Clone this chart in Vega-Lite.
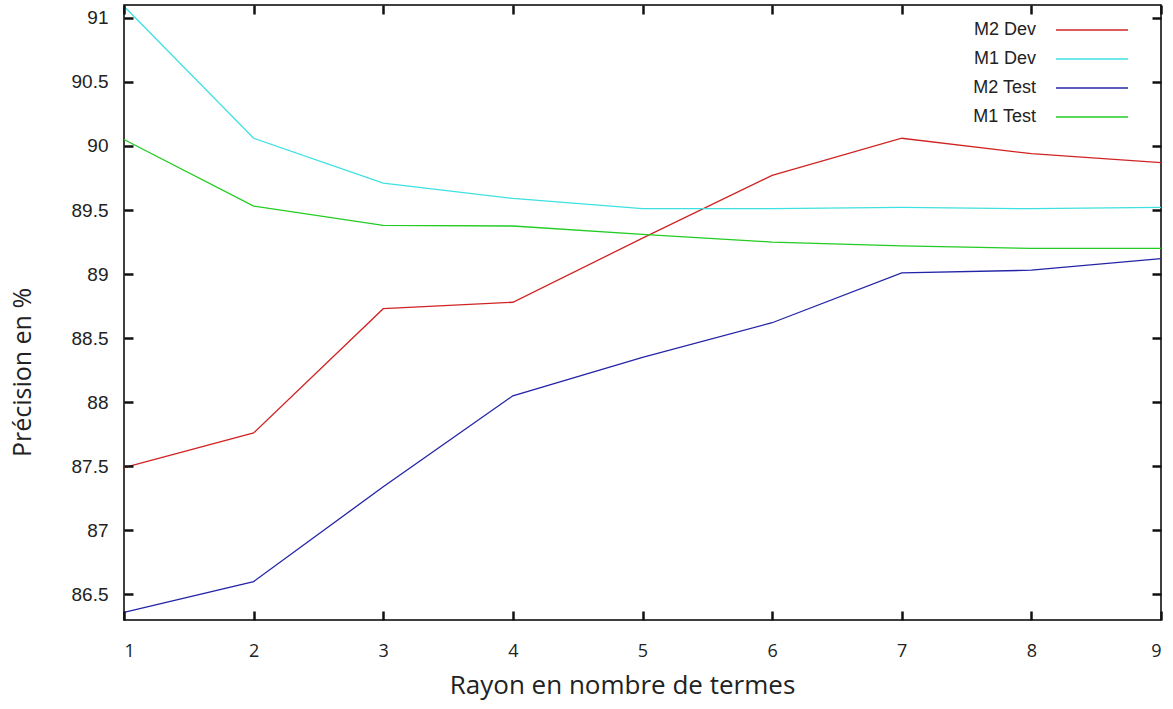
{
  "$schema": "https://vega.github.io/schema/vega-lite/v6.json",
  "width": 1037,
  "height": 615,
  "autosize": "none",
  "padding": {"left": 124, "top": 5, "right": 12, "bottom": 89},
  "background": "white",
  "config": {
    "view": {"stroke": "black", "strokeWidth": 1.5},
    "axis": {"grid": false, "domain": false, "labelColor": "#222222", "titleColor": "#222222", "titleFontWeight": "normal"}
  },
  "data": {
    "values": [
      {"r": 1, "s": "M2 Dev", "v": 87.49},
      {"r": 2, "s": "M2 Dev", "v": 87.76},
      {"r": 3, "s": "M2 Dev", "v": 88.73},
      {"r": 4, "s": "M2 Dev", "v": 88.78},
      {"r": 5, "s": "M2 Dev", "v": 89.28},
      {"r": 6, "s": "M2 Dev", "v": 89.77},
      {"r": 7, "s": "M2 Dev", "v": 90.06},
      {"r": 8, "s": "M2 Dev", "v": 89.94},
      {"r": 9, "s": "M2 Dev", "v": 89.87},
      {"r": 1, "s": "M1 Dev", "v": 91.09},
      {"r": 2, "s": "M1 Dev", "v": 90.06},
      {"r": 3, "s": "M1 Dev", "v": 89.71},
      {"r": 4, "s": "M1 Dev", "v": 89.59},
      {"r": 5, "s": "M1 Dev", "v": 89.51},
      {"r": 6, "s": "M1 Dev", "v": 89.51},
      {"r": 7, "s": "M1 Dev", "v": 89.52},
      {"r": 8, "s": "M1 Dev", "v": 89.51},
      {"r": 9, "s": "M1 Dev", "v": 89.52},
      {"r": 1, "s": "M2 Test", "v": 86.36},
      {"r": 2, "s": "M2 Test", "v": 86.6},
      {"r": 3, "s": "M2 Test", "v": 87.34},
      {"r": 4, "s": "M2 Test", "v": 88.05},
      {"r": 5, "s": "M2 Test", "v": 88.35},
      {"r": 6, "s": "M2 Test", "v": 88.62},
      {"r": 7, "s": "M2 Test", "v": 89.01},
      {"r": 8, "s": "M2 Test", "v": 89.03},
      {"r": 9, "s": "M2 Test", "v": 89.12},
      {"r": 1, "s": "M1 Test", "v": 90.05},
      {"r": 2, "s": "M1 Test", "v": 89.53},
      {"r": 3, "s": "M1 Test", "v": 89.38},
      {"r": 4, "s": "M1 Test", "v": 89.375},
      {"r": 5, "s": "M1 Test", "v": 89.31},
      {"r": 6, "s": "M1 Test", "v": 89.25},
      {"r": 7, "s": "M1 Test", "v": 89.22},
      {"r": 8, "s": "M1 Test", "v": 89.2},
      {"r": 9, "s": "M1 Test", "v": 89.2}
    ]
  },
  "layer": [
    {
      "mark": {"type": "line", "strokeWidth": 1.3},
      "encoding": {
        "x": {"field": "r", "type": "quantitative", "scale": {"domain": [1, 9], "nice": false, "zero": false},
          "axis": {"orient": "bottom", "values": [1,2,3,4,5,6,7,8,9], "tickColor": "#111111", "tickWidth": 2.5, "tickSize": -9, "zindex": 1, "labelPadding": 31, "labelFont": "Open Sans", "labelFontSize": 18, "title": "Rayon en nombre de termes", "titleFont": "Open Sans", "titleFontSize": 26, "titlePadding": 12, "titleX": 498}},
        "y": {"field": "v", "type": "quantitative", "scale": {"domain": [86.3, 91.1], "nice": false, "zero": false},
          "axis": {"orient": "left", "values": [86.5,87,87.5,88,88.5,89,89.5,90,90.5,91], "tickColor": "#111111", "tickWidth": 2.5, "tickSize": -9, "zindex": 1, "format": ".1~f", "labelPadding": 25, "labelFont": "Liberation Sans", "labelFontSize": 19, "title": "Précision en %", "titleFont": "Open Sans", "titleFontSize": 25, "titleY": 367, "titlePadding": 36}},
        "color": {"field": "s", "type": "nominal",
          "scale": {"domain": ["M2 Dev", "M1 Dev", "M2 Test", "M1 Test"], "range": ["#d02424", "#3fe0e0", "#2424a8", "#22cc22"]},
          "legend": {"orient": "none", "legendX": 958, "legendY": 15, "title": null, "symbolType": "M-4,0H4", "symbolSize": 324, "symbolStrokeWidth": 1.5, "labelAlign": "right", "labelOffset": -66, "labelFont": "Liberation Sans", "labelFontSize": 18, "labelColor": "#222222", "rowPadding": 10, "padding": 0}}
      }
    },
    {
      "mark": {"type": "line", "opacity": 0},
      "encoding": {
        "x": {"field": "r", "type": "quantitative", "axis": {"orient": "top", "values": [1,2,3,4,5,6,7,8,9], "tickColor": "#111111", "tickWidth": 2.5, "tickSize": -9, "zindex": 1, "labels": false, "title": null}},
        "y": {"field": "v", "type": "quantitative", "axis": {"orient": "right", "values": [86.5,87,87.5,88,88.5,89,89.5,90,90.5,91], "tickColor": "#111111", "tickWidth": 2.5, "tickSize": -9, "zindex": 1, "labels": false, "title": null}},
        "detail": {"field": "s"}
      }
    }
  ],
  "resolve": {"axis": {"x": "independent", "y": "independent"}}
}
